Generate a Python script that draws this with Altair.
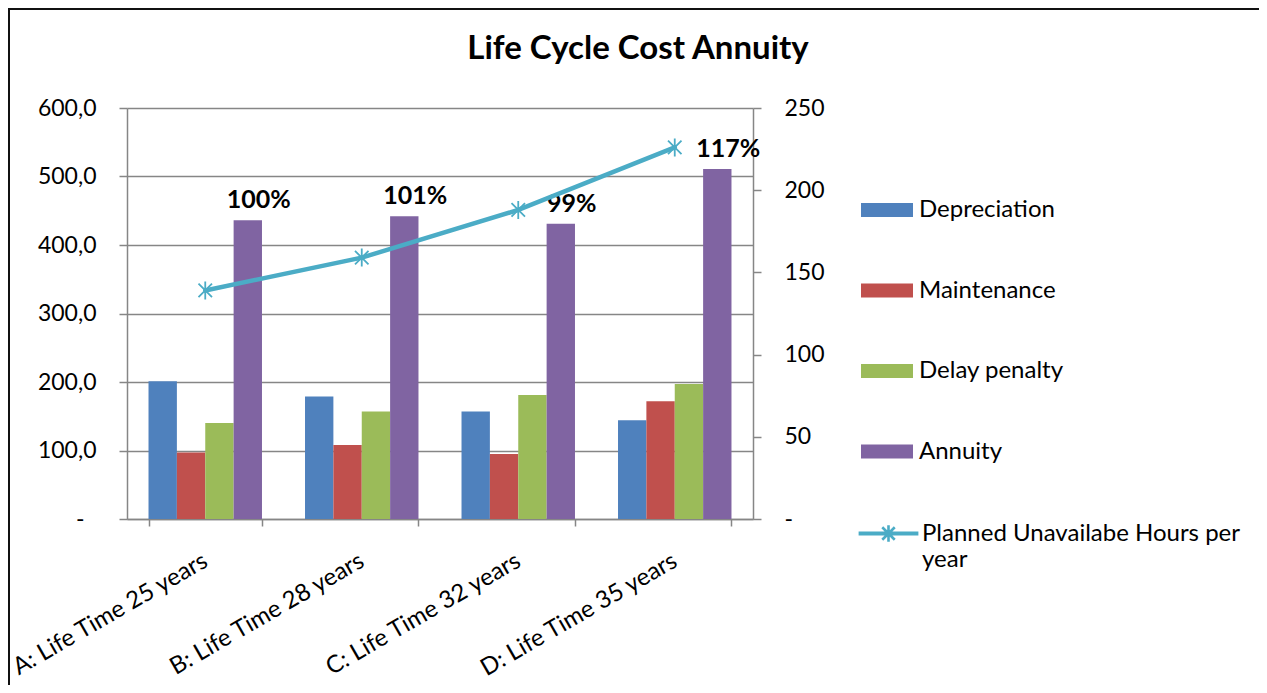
import altair as alt
import pandas as pd

# ---------------- data ----------------
categories = [
    "A: Life Time 25 years",
    "B: Life Time 28 years",
    "C: Life Time 32 years",
    "D: Life Time 35 years",
]
bar_series = ["Depreciation", "Maintenance", "Delay penalty", "Annuity"]
depreciation = [201, 179, 157, 144]
maintenance = [97, 108, 95, 172]
delay_penalty = [140, 157, 181, 197]
annuity = [436, 442, 431, 511]
annuity_pct_labels = ["100%", "101%", "99%", "117%"]
line_series = "Planned Unavailabe Hours per year"
planned_hours = [139, 159, 188, 226]
left_ticks = [0, 100, 200, 300, 400, 500, 600]
right_ticks = [0, 50, 100, 150, 200, 250]
chart_title = "Life Cycle Cost Annuity"
bar_colors = ["#4F81BD", "#C0504D", "#9BBB59", "#8064A2"]
line_color = "#4BACC6"

# ---------------- tables ----------------
bar_values = [depreciation, maintenance, delay_penalty, annuity]
bars_df = pd.DataFrame(
    [
        {"category": c, "series": s, "value": vals[i]}
        for s, vals in zip(bar_series, bar_values)
        for i, c in enumerate(categories)
    ]
)
pct_df = pd.DataFrame(
    {"category": categories, "series": "Annuity", "value": annuity, "label": annuity_pct_labels}
)
line_df = pd.DataFrame({"category": categories, "series": line_series, "hours": planned_hours})

FONT = "Lato"
GRAY = "#868686"

RECT = "M-1,-0.27H1V0.27H-1Z"
LINE_SYM = "M-1.1,-0.03H1.1V0.03H-1.1Z M0,-0.32V0.32 M-0.24,-0.24L0.24,0.24 M-0.24,0.24L0.24,-0.24"
ASTERISK = "M0,-1V1M-0.75,-0.75L0.75,0.75M-0.75,0.75L0.75,-0.75"

bar_legend = alt.Legend(
    orient="none",
    legendX=734,
    legendY=76,
    title=None,
    padding=0,
    symbolType=RECT,
    symbolSize=2704,
    symbolStrokeWidth=0,
    symbolOpacity=1,
    labelFont=FONT,
    labelFontSize=24,
    labelColor="black",
    labelLimit=500,
    labelOffset=6,
    rowPadding=42.5,
)
line_legend = alt.Legend(
    orient="none",
    legendX=734,
    legendY=398,
    title=None,
    padding=0,
    symbolType=LINE_SYM,
    symbolSize=2704,
    symbolStrokeWidth=2.6,
    symbolOpacity=1,
    labelFont=FONT,
    labelFontSize=24,
    labelColor="black",
    labelLimit=500,
    labelOffset=6,
    labelExpr="['Planned Unavailabe Hours per', 'year']",
)

x_enc = alt.X(
    "category:N",
    sort=categories,
    scale=alt.Scale(paddingInner=0.275, paddingOuter=0.1375),
    axis=alt.Axis(
        title=None,
        labelAngle=-30,
        labelAlign="right",
        labelBaseline="middle",
        labelPadding=33,
        labelFont=FONT,
        labelFontSize=24,
        labelColor="black",
        labelLimit=500,
        tickBand="extent",
        tickSize=7,
        tickWidth=1.5,
        tickColor=GRAY,
        domainColor=GRAY,
        domainWidth=1.5,
        grid=False,
    ),
)

left_axis = alt.Axis(
    orient="left",
    title=None,
    values=left_ticks,
    labelExpr="datum.value === 0 ? '-' : replace(format(datum.value, '.1f'), '.', ',')",
    labelFont=FONT,
    labelFontSize=23,
    labelColor="black",
    labelPadding={"condition": {"test": "datum.value === 0", "value": 35}, "value": 23},
    tickSize=8,
    tickWidth=1.5,
    tickColor=GRAY,
    domainColor=GRAY,
    domainWidth=1.5,
    grid=True,
    gridColor=GRAY,
    gridWidth=1.4,
)
right_axis = alt.Axis(
    orient="right",
    title=None,
    values=right_ticks,
    labelExpr="datum.value === 0 ? '-' : format(datum.value, 'd')",
    labelFont=FONT,
    labelFontSize=23,
    labelColor="black",
    labelPadding=23,
    tickSize=8,
    tickWidth=1.5,
    tickColor=GRAY,
    domainColor=GRAY,
    domainWidth=1.5,
    grid=False,
)

offset_scale = alt.Scale(domain=bar_series, paddingInner=0, paddingOuter=0)
left_y = alt.Scale(domain=[0, 600])
right_y = alt.Scale(domain=[0, 250])

bars = alt.Chart(bars_df).mark_bar().encode(
    x=x_enc,
    xOffset=alt.XOffset("series:N", sort=bar_series, scale=offset_scale),
    y=alt.Y("value:Q", scale=left_y, axis=left_axis),
    fill=alt.Fill("series:N", scale=alt.Scale(domain=bar_series, range=bar_colors), legend=bar_legend),
)

pct_text = alt.Chart(pct_df).mark_text(
    font=FONT, fontSize=25, fontWeight="bold", color="black", dx=11, dy=-20, baseline="middle"
).encode(
    x=x_enc,
    xOffset=alt.XOffset("series:N", sort=bar_series, scale=offset_scale),
    y=alt.Y("value:Q", scale=left_y, axis=left_axis),
    text="label:N",
)

line = alt.Chart(line_df).mark_line(strokeWidth=4.5, strokeCap="round", strokeJoin="round").encode(
    x=x_enc,
    y=alt.Y("hours:Q", scale=right_y, axis=right_axis),
    stroke=alt.Stroke("series:N", scale=alt.Scale(domain=[line_series], range=[line_color]), legend=line_legend),
)
points = alt.Chart(line_df).mark_point(
    shape=ASTERISK, filled=False, size=324, strokeWidth=1.8, color=line_color, opacity=1
).encode(
    x=x_enc,
    y=alt.Y("hours:Q", scale=right_y, axis=right_axis),
)

# outer frame of the figure (right and bottom edges fall outside the page)
frame_df = pd.DataFrame({"k": [0]})
frame = alt.Chart(frame_df).mark_rect(
    filled=False, fill="transparent", stroke="#111111", strokeWidth=2
).encode(
    x=alt.value(-118), x2=alt.value(1400), y=alt.value(-99), y2=alt.value(800)
)
title_df = pd.DataFrame({"t": [chart_title]})
title = alt.Chart(title_df).mark_text(
    font=FONT, fontSize=33, fontWeight="bold", color="black", align="center", baseline="alphabetic"
).encode(x=alt.value(511), y=alt.value(-49), text="t:N")

left_layer = alt.layer(bars, pct_text)
right_layer = alt.layer(line, points)
main = alt.layer(left_layer, right_layer).resolve_scale(y="independent")

chart = (
    alt.layer(frame, title, main)
    .properties(
        width=626,
        height=411,
        autosize=alt.AutoSizeParams(type="none"),
        padding={"left": 119, "top": 100, "right": 506, "bottom": 166},
        background="white",
    )
    .configure_view(stroke=None)
)

chart.save("out.html", embed_options={"renderer": "svg", "actions": False})
